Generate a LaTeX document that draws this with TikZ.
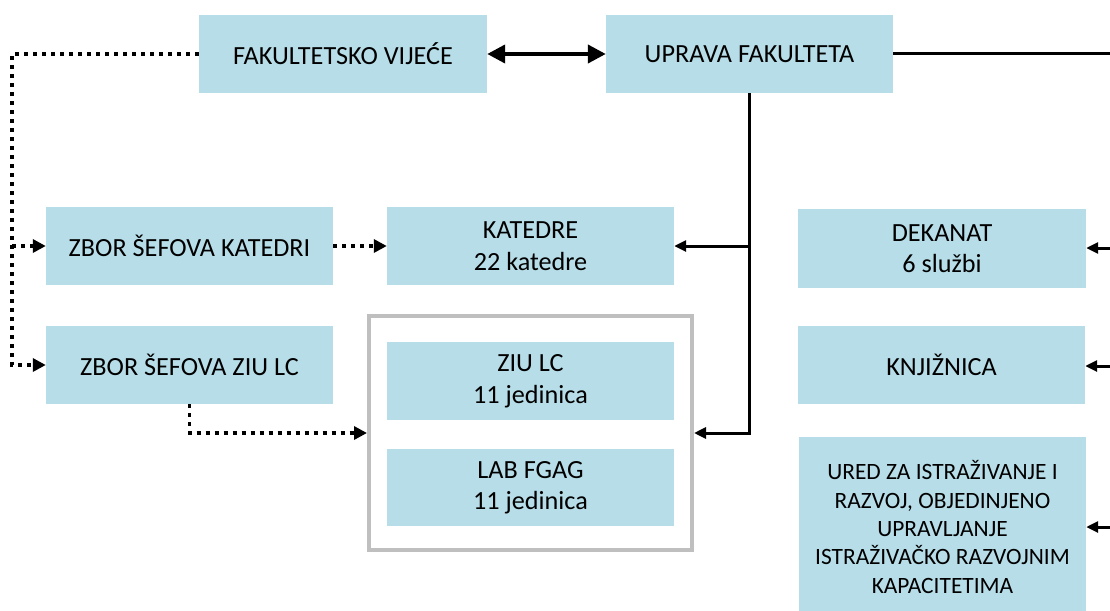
\documentclass[tikz,border=0pt]{standalone}
\usepackage{fontspec}
\setmainfont{Carlito}
\usetikzlibrary{arrows.meta}
\definecolor{boxblue}{HTML}{B7DDE8}
\definecolor{grpgray}{HTML}{BFBFBF}
\begin{document}
\begin{tikzpicture}[x=1pt,y=-1pt,
  box/.style={fill=boxblue, draw=none, minimum width=287pt, minimum height=78pt,
    align=center, inner sep=2pt, font=\fontsize{26.2}{31.5}\selectfont},
  smallbox/.style={box, font=\fontsize{23.4}{28.3}\selectfont},
  grpbox/.style={draw=grpgray, line width=4pt, minimum width=323pt, minimum height=234pt},
  solidcon/.style={line width=3pt, black},
  dotcon/.style={line width=3.8pt, black, dash pattern=on 4pt off 5pt},
  tip/.style={-{Triangle[length=12pt,width=11pt]}},
  dtip/.style={-{Triangle[length=13pt,width=13pt]}},
  bigtip/.style={{Triangle[length=18pt,width=18pt]}-{Triangle[length=18pt,width=18pt]}},
]
\useasboundingbox (0,0) rectangle (1110,610);

% nodes
\node[box, minimum width=288pt] (fv) at (343,54) {FAKULTETSKO VIJEĆE};
\node[box] (uf) at (749.5,54) {UPRAVA FAKULTETA};
\node[box] (zk) at (189.5,246) {ZBOR ŠEFOVA KATEDRI};
\node[box] (kat) at (530.5,246) {KATEDRE\\22 katedre};
\node[box] (zz) at (189.5,365) {ZBOR ŠEFOVA ZIU LC};
\node[grpbox] (grp) at (530.5,433) {};
\node[box] (ziu) at (530.5,381) {ZIU LC\\11 jedinica};
\node[box, minimum height=77pt] (lab) at (530.5,487.5) {LAB FGAG\\11 jedinica};
\node[box, minimum width=288pt, minimum height=79pt] (dek) at (942,248.5) {DEKANAT\\6 službi};
\node[box] (knj) at (941.5,365) {KNJIŽNICA};
\node[smallbox, minimum height=180pt] (ured) at (942.5,527) {URED ZA ISTRAŽIVANJE I\\RAZVOJ, OBJEDINJENO\\UPRAVLJANJE\\ISTRAŽIVAČKO RAZVOJNIM\\KAPACITETIMA};

% coordinates at the picture edges
\coordinate (rtop) at (1110,54);
\coordinate (rdek) at (1110,248);
\coordinate (rknj) at (1110,366);
\coordinate (rured) at (1110,527);
\coordinate (dtop) at (12,54);

% solid connectors
\draw[line width=4pt, bigtip] (fv.east) -- (uf.west);
\draw[solidcon] (uf.east) -- (rtop);
\draw[solidcon, tip] (uf.south) |- (grp.east);
\draw[solidcon, tip] (uf.south |- kat.east) -- (kat.east);
\draw[solidcon, tip] (rdek) -- (rdek -| dek.east);
\draw[solidcon, tip] (rknj) -- (rknj -| knj.east);
\draw[solidcon, tip] (rured) -- (rured -| ured.east);

% dotted connectors
\draw[dotcon, dtip] (fv.west) -- (dtop) |- (zz.west);
\draw[dotcon, dtip] (dtop |- zk.west) -- (zk.west);
\draw[dotcon, dtip] (zk.east) -- (kat.west);
\draw[dotcon, dtip] (zz.south) |- (grp.west);
\end{tikzpicture}
\end{document}
